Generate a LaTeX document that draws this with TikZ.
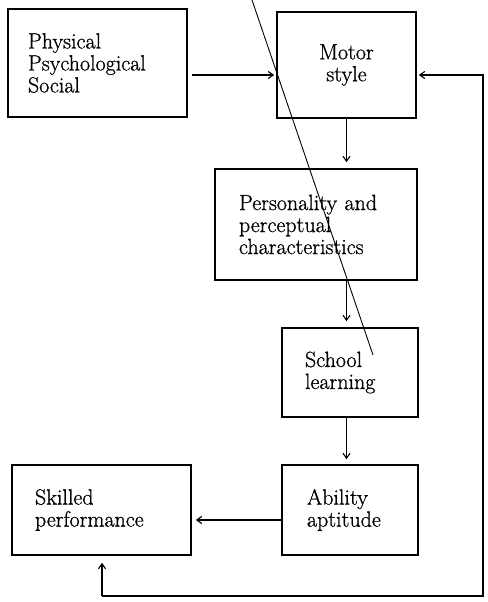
\documentclass[tikz,border=0pt]{standalone}
\usepackage{fontspec}
\newfontfamily\heavyserif{Latin Modern Roman}[FakeBold=0.9]
\usetikzlibrary{arrows.meta}
\begin{document}
\begin{tikzpicture}[x=1pt,y=-1pt,
  box/.style={draw, line width=1.6pt, rectangle, inner ysep=0pt,
    font=\heavyserif\fontsize{22}{22}\selectfont},
  arr/.style={line width=1.1pt, -{Straight Barb[length=5pt,width=7pt]}},
  scratch/.style={line width=0.9pt}]
\useasboundingbox (0,0) rectangle (487,602);

\node[box, minimum width=179, minimum height=108, text width=139, inner xsep=20, align=left]
  (phys) at (97.5,63) {Physical\\Psychological\\Social};
\node[box, minimum width=139, minimum height=106, text width=101, inner xsep=19, align=center]
  (motor) at (346.5,65) {Motor\\style};
\node[box, minimum width=202, minimum height=111, text width=154, inner xsep=24, align=left]
  (pers) at (316,224.5) {Personality and\\perceptual\\characteristics};
\node[box, minimum width=136, minimum height=89, text width=90, inner xsep=23, align=left]
  (school) at (350,372.5) {School\\learning};
\node[box, minimum width=136, minimum height=90, text width=86, inner xsep=25, align=left]
  (abil) at (350,510) {Ability\\aptitude};
\node[box, minimum width=179, minimum height=90, text width=133, inner xsep=23, align=left]
  (skill) at (101.5,510) {Skilled\\performance};

% helper coordinates
\coordinate (yA) at (0,75);
\coordinate (yB) at (0,520);
\coordinate (fbR) at (483,75);
\coordinate (fbB) at (483,596);
\coordinate (fbL) at (102,596);

\draw[arr, shorten <=4pt, shorten >=2pt] (phys.east |- yA) -- (motor.west |- yA);
\draw[arr, shorten >=6pt] (motor.south) -- (pers.north -| motor.south);
\draw[arr, shorten >=6pt] (pers.south -| motor.south) -- (school.north -| motor.south);
\draw[arr, shorten >=5pt] (school.south -| motor.south) -- (abil.north -| motor.south);
\draw[arr, shorten >=4pt] (abil.west |- yB) -- (skill.east |- yB);
\draw[arr, shorten >=2pt] (fbL) -- (fbB) -- (fbR) -- (motor.east |- fbR);
\draw[arr, shorten >=7pt] (fbL) -- (skill.south -| fbL);

% stray scan line
\coordinate (s1) at (252,0);
\coordinate (s2) at (373,355);
\draw[scratch] (s1) -- (s2);
\end{tikzpicture}
\end{document}
